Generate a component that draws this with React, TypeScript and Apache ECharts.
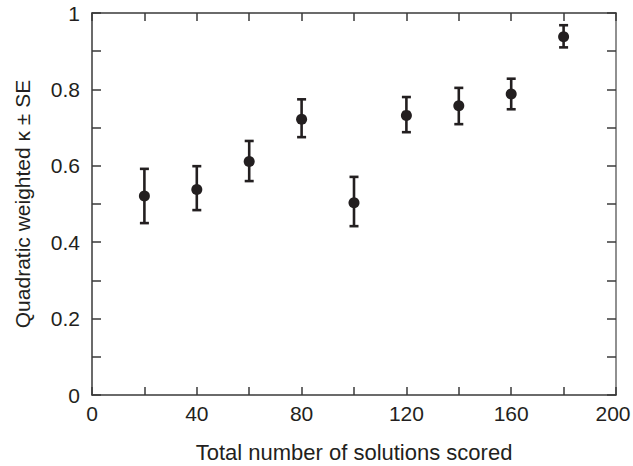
import React, { useEffect, useRef } from "react";
import * as echarts from "echarts";

const solutions = [20, 40, 60, 80, 100, 120, 140, 160, 180];
const kappa = [0.521, 0.538, 0.611, 0.722, 0.503, 0.732, 0.757, 0.788, 0.938];
const lower = [0.45, 0.484, 0.56, 0.675, 0.442, 0.688, 0.709, 0.748, 0.91];
const upper = [0.592, 0.599, 0.665, 0.774, 0.571, 0.78, 0.804, 0.828, 0.968];
const xTickLabels = ["0", "40", "80", "120", "160", "200"];
const yTickLabels = ["0", "0.2", "0.4", "0.6", "0.8", "1"];

const INK = "#231f20";
const FONT = "'Liberation Sans', Arial, sans-serif";

export default function App() {
  const ref = useRef<HTMLDivElement>(null);
  useEffect(() => {
    if (!ref.current) return;
    const chart = echarts.init(ref.current, undefined, { renderer: "svg" });
    const fmtX = (v: number) => {
      const s = String(Math.round(v));
      if (!xTickLabels.includes(s)) return "";
      return s === "200" ? "{r|" + s + "}" : s;
    };
    const fmtY = (v: number) => {
      const s = String(Math.round(v * 10) / 10);
      return yTickLabels.includes(s) ? s : "";
    };
    const axisLine = { show: true, onZero: false, lineStyle: { color: "#3a3a3a", width: 1.5 } };
    const tick = (len: number) => ({
      show: true,
      inside: true,
      length: len,
      lineStyle: { color: "#3a3a3a", width: 1.5 },
    });
    chart.setOption({
      animation: false,
      backgroundColor: "#ffffff",
      grid: { left: 92, right: 17, top: 13, bottom: 71, outerBoundsMode: "none", containLabel: false },
      xAxis: [
        {
          type: "value",
          position: "bottom",
          min: 0,
          max: 200,
          interval: 20,
          axisLine,
          axisTick: tick(8),
          splitLine: { show: false },
          axisLabel: {
            formatter: fmtX,
            color: INK,
            fontSize: 21,
            fontFamily: FONT,
            margin: 8,
            showMinLabel: true,
            showMaxLabel: true,
            rich: {
              r: { color: INK, fontSize: 21, fontFamily: FONT, padding: [0, 6, 0, 0] },
            },
          },
          name: "Total number of solutions scored",
          nameLocation: "middle",
          nameGap: 46,
          nameTextStyle: { color: INK, fontSize: 22, fontFamily: FONT },
        },
        {
          type: "value",
          position: "top",
          min: 0,
          max: 200,
          interval: 20,
          axisLine,
          axisTick: tick(8),
          splitLine: { show: false },
          axisLabel: { show: false },
        },
      ],
      yAxis: [
        {
          type: "value",
          position: "left",
          min: 0,
          max: 1,
          interval: 0.1,
          axisLine,
          axisTick: tick(9),
          splitLine: { show: false },
          axisLabel: {
            formatter: fmtY,
            color: INK,
            fontSize: 21,
            fontFamily: FONT,
            margin: 12,
            showMinLabel: true,
            showMaxLabel: true,
          },
          name: "Quadratic weighted κ ± SE",
          nameLocation: "middle",
          nameGap: 59,
          nameTextStyle: { color: INK, fontSize: 21, fontFamily: FONT },
        },
        {
          type: "value",
          position: "right",
          min: 0,
          max: 1,
          interval: 0.1,
          axisLine: { show: true, onZero: false, lineStyle: { color: "#6b6b6b", width: 1.5 } },
          axisTick: tick(9),
          splitLine: { show: false },
          axisLabel: { show: false },
        },
      ],
      series: [
        {
          type: "scatter",
          xAxisIndex: 1,
          yAxisIndex: 1,
          data: [[0, 0]],
          symbolSize: 0,
          itemStyle: { opacity: 0 },
          silent: true,
        },
        {
          type: "custom",
          xAxisIndex: 0,
          yAxisIndex: 0,
          data: solutions.map((x, i) => [x, lower[i], upper[i]]),
          renderItem: (params: any, api: any) => {
            const x = api.value(0);
            const lo = api.coord([x, api.value(1)]);
            const hi = api.coord([x, api.value(2)]);
            const hw = 4.5;
            const style = { stroke: INK, lineWidth: 2.6 };
            return {
              type: "group",
              children: [
                { type: "line", shape: { x1: lo[0], y1: lo[1], x2: hi[0], y2: hi[1] }, style },
                { type: "line", shape: { x1: lo[0] - hw, y1: lo[1], x2: lo[0] + hw, y2: lo[1] }, style },
                { type: "line", shape: { x1: hi[0] - hw, y1: hi[1], x2: hi[0] + hw, y2: hi[1] }, style },
              ],
            };
          },
          z: 2,
        },
        {
          type: "scatter",
          xAxisIndex: 0,
          yAxisIndex: 0,
          data: solutions.map((x, i) => [x, kappa[i]]),
          symbol: "circle",
          symbolSize: 11,
          itemStyle: { color: INK, opacity: 1 },
          z: 3,
        },
      ],
    });
    return () => chart.dispose();
  }, []);
  return (
    <div
      ref={ref}
      style={{ position: "fixed", left: 0, top: 0, width: 633, height: 466 }}
    />
  );
}
